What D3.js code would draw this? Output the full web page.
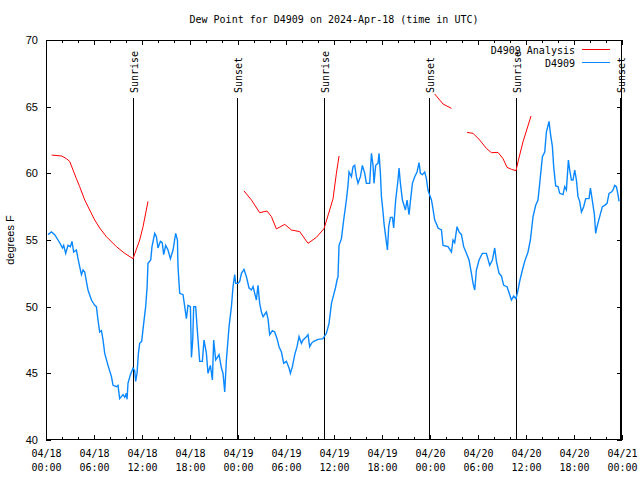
<!DOCTYPE html>
<html><head><meta charset="utf-8">
<script src="https://cdn.jsdelivr.net/npm/d3@7"></script>
<style>
body{margin:0;background:#fff}
svg{display:block}
.mono{font-family:"DejaVu Sans Mono",monospace;font-size:10px}
.sans{font-family:"Liberation Sans",Arial,sans-serif;font-size:11px}
</style></head><body>
<svg id="c" width="640" height="480"></svg>
<script>
// ---- data (time in hours since 2024-04-18 00:00 UTC) ----
const title = "Dew Point for D4909 on 2024-Apr-18 (time in UTC)";
const yLabel = "degrees F";
const seriesNames = ["D4909 Analysis", "D4909"];
const xTickHours = [0,6,12,18,24,30,36,42,48,54,60,66,72];
const xTickDates = ["04/18","04/18","04/18","04/18","04/19","04/19","04/19","04/19","04/20","04/20","04/20","04/20","04/21"];
const xTickTimes = ["00:00","06:00","12:00","18:00","00:00","06:00","12:00","18:00","00:00","06:00","12:00","18:00","00:00"];
const yTicks = [40,45,50,55,60,65,70];
const sunEventHours = [10.87,23.88,34.75,47.88,58.75,71.8];
const sunEventNames = ["Sunrise","Sunset","Sunrise","Sunset","Sunrise","Sunset"];

const obsHours = [0.25,0.68,1.09,1.5,1.8,2.05,2.21,2.46,2.75,3.05,3.25,3.46,3.8,4.0,4.21,4.43,4.63,4.84,5.05,5.25,5.68,6.09,6.3,6.5,6.71,6.93,7.13,7.34,7.75,8.18,8.38,8.8,9.0,9.21,9.63,9.84,10.05,10.13,10.25,10.55,10.88,11.09,11.21,11.38,11.55,11.71,11.96,12.21,12.46,12.63,12.75,13.09,13.25,13.59,13.8,14.0,14.3,14.53,14.71,14.96,15.25,15.55,15.88,16.21,16.43,16.5,16.71,17.13,17.34,17.55,17.75,18.05,18.18,18.34,18.46,18.71,18.88,19.21,19.55,19.75,20.05,20.25,20.55,20.8,20.96,21.21,21.63,21.93,22.13,22.34,22.55,22.88,23.18,23.38,23.59,23.71,24.0,24.21,24.43,24.75,25.05,25.38,25.68,25.88,26.09,26.3,26.5,26.71,26.93,27.13,27.55,27.75,27.96,28.3,28.59,28.88,29.13,29.43,29.71,30.05,30.38,30.55,30.8,31.09,31.38,31.63,31.93,32.13,32.55,32.75,32.96,33.18,33.46,34.0,34.63,35.05,35.38,35.68,35.96,36.18,36.38,36.5,36.63,36.93,37.21,37.55,37.75,37.88,38.18,38.38,38.59,38.8,39.0,39.3,39.55,39.84,40.05,40.46,40.68,40.88,41.0,41.21,41.5,41.63,41.8,41.93,42.13,42.25,42.46,42.68,42.84,43.05,43.3,43.46,43.71,44.0,44.13,44.3,44.55,44.93,45.13,45.38,45.55,45.8,46.09,46.38,46.63,46.8,47.05,47.34,47.55,47.75,47.88,48.18,48.3,48.59,48.88,49.0,49.43,49.63,50.25,50.68,50.88,51.09,51.38,51.63,51.93,52.21,52.55,52.88,53.18,53.38,53.59,53.8,54.13,54.55,55.05,55.46,55.8,56.09,56.3,56.63,56.93,57.21,57.63,57.96,58.18,58.46,58.75,59.0,59.21,59.55,59.84,60.25,60.55,60.88,61.21,61.5,61.8,62.05,62.34,62.55,62.88,63.05,63.3,63.46,63.71,64.0,64.21,64.63,64.84,65.05,65.3,65.46,65.68,65.88,66.09,66.3,66.5,66.71,66.93,67.21,67.46,67.88,68.05,68.18,68.38,68.55,68.71,68.88,69.21,69.55,69.84,70.13,70.38,70.68,70.88,71.09,71.3,71.5,71.63];
const obsValues = [55.4,55.6,55.4,55.0,54.7,54.4,54.6,54.0,54.6,54.5,54.9,54.1,54.25,53.6,53.0,52.4,52.75,52.6,51.9,51.25,50.5,50.1,50.0,49.0,48.1,48.2,47.5,46.5,45.6,44.75,44.1,44.0,44.1,43.1,43.4,43.2,43.5,43.05,44.25,44.9,45.4,45.2,44.4,45.0,46.5,47.25,47.4,48.75,50.0,51.4,53.25,53.5,54.5,55.5,55.25,54.4,54.9,54.8,53.9,54.6,54.25,53.6,54.25,55.5,55.0,53.0,51.0,50.9,50.0,49.1,50.1,50.0,46.2,47.5,50.0,50.0,48.5,45.9,45.9,47.5,46.5,45.0,45.6,44.5,47.5,46.0,46.4,45.4,45.0,43.6,46.0,48.5,50.0,51.5,52.4,51.75,51.75,51.9,52.5,52.8,52.25,51.4,51.25,51.5,51.0,50.5,51.6,50.25,49.6,49.25,49.6,49.1,47.9,48.2,48.1,47.6,47.0,46.6,45.75,45.9,45.4,45.0,45.5,46.4,47.0,47.75,47.25,47.5,47.75,47.9,47.0,47.25,47.4,47.55,47.6,48.0,48.75,50.25,50.9,51.4,52.0,52.25,54.6,55.1,56.5,58.0,59.1,60.1,59.75,60.5,60.6,59.75,59.25,59.75,60.6,60.0,59.25,59.25,61.5,60.6,59.25,60.6,60.75,61.5,60.0,58.25,57.1,56.25,55.25,54.25,56.0,56.7,56.7,55.9,58.0,59.5,60.4,59.25,58.0,57.25,58.0,56.9,57.9,59.25,59.75,60.1,60.8,60.0,59.9,60.1,59.6,58.75,58.5,58.0,57.6,56.5,56.1,55.9,55.75,54.6,54.5,54.1,55.0,54.8,56.0,55.6,55.4,54.5,54.0,53.5,52.5,51.75,51.25,52.75,53.5,54.0,54.0,53.1,53.5,54.4,53.4,52.5,52.3,51.6,51.5,50.9,50.5,50.8,50.6,51.25,51.9,52.75,53.4,54.1,55.0,56.75,57.6,58.0,59.75,61.25,61.6,63.1,63.9,63.0,62.0,60.5,59.05,59.0,58.5,58.4,59.0,58.75,61.0,60.25,59.5,59.5,60.25,59.5,58.25,57.9,57.1,57.5,58.1,58.1,58.9,58.4,57.6,56.9,55.5,56.0,56.75,57.5,57.6,57.75,58.5,58.6,58.75,59.1,59.0,58.4,57.9];

// analysis series; null marks a gap
const anaHours = [0.71,1.96,2.55,2.96,3.38,3.8,4.21,4.84,5.46,6.09,6.71,7.55,8.8,9.84,10.88,11.71,12.13,12.75,
  18.0,
  24.75,25.68,26.71,27.63,28.18,28.8,29.84,30.68,31.71,32.75,33.8,34.75,35.46,35.88,36.3,36.63,
  42.0,
  48.59,49.63,50.68,
  51.5,
  52.63,53.38,54.21,55.05,55.68,56.5,57.13,57.63,58.18,58.75,59.0,59.63,60.63];
const anaValues = [61.37,61.3,61.1,60.9,60.25,59.6,59.0,58.0,57.25,56.5,55.9,55.25,54.5,54.0,53.6,55.0,56.0,57.9,
  null,
  58.68,58.0,57.05,57.17,56.75,55.83,56.17,55.75,55.63,54.75,55.2,55.85,57.25,58.1,60.0,61.3,
  null,
  65.95,65.2,64.87,
  null,
  63.07,63.0,62.5,61.87,61.55,61.57,61.1,60.45,60.3,60.2,60.87,62.37,64.3];

// ---- chart ----
const W = 640, H = 480;
const m = {l:46, r:18, t:40, b:40};
const svg = d3.select("#c");
const x = d3.scaleLinear().domain([0,72]).range([m.l, W-m.r]);
const y = d3.scaleLinear().domain([40,70]).range([H-m.b, m.t]);
const colors = ["#ff0000", "#0a88ff"];
const pBottom = H-m.b, pTop = m.t, pLeft = m.l, pRight = W-m.r;

svg.append("text").attr("class","mono").attr("x",(pLeft+pRight)/2).attr("y",23)
  .attr("text-anchor","middle").text(title);

// sun event lines
const sunG = svg.append("g");
sunEventHours.forEach((h,i)=>{
  const px = Math.round(x(h))+0.5;
  sunG.append("line").attr("x1",px).attr("x2",px).attr("y1",98).attr("y2",pBottom)
    .attr("stroke","#000").attr("stroke-width",1).attr("shape-rendering","crispEdges");
  sunG.append("text").attr("class","mono").attr("transform",`translate(${px+4},93) rotate(-90)`)
    .attr("text-anchor","start").text(sunEventNames[i]);
});

// axes
function axisStyle(g){ g.selectAll("path").remove(); g.selectAll("line").attr("stroke","#000").attr("shape-rendering","crispEdges"); }
const minorHours = d3.range(0,73,2).filter(h=>h%6!==0);
svg.append("g").attr("transform",`translate(0,${pBottom})`)
  .call(d3.axisBottom(x).tickValues(minorHours).tickSize(-3).tickFormat("")).call(axisStyle);
svg.append("g").attr("transform",`translate(0,${pTop})`)
  .call(d3.axisTop(x).tickValues(minorHours).tickSize(-3).tickFormat("")).call(axisStyle);
svg.append("g").attr("transform",`translate(0,${pTop})`)
  .call(d3.axisTop(x).tickValues(xTickHours).tickSize(-5).tickFormat("")).call(axisStyle);
const xb = svg.append("g").attr("transform",`translate(0,${pBottom})`)
  .call(d3.axisBottom(x).tickValues(xTickHours).tickSize(-5).tickPadding(0).tickFormat("")).call(axisStyle);
xb.selectAll(".tick").each(function(d,i){
  const t = d3.select(this).append("text").attr("class","mono").attr("fill","#000")
    .attr("text-anchor","middle").attr("y",17);
  t.append("tspan").attr("x",0).text(xTickDates[i]);
  t.append("tspan").attr("x",0).attr("dy",14).text(xTickTimes[i]);
});
const yl = svg.append("g").attr("transform",`translate(${pLeft},0)`)
  .call(d3.axisLeft(y).tickValues(yTicks).tickSize(-5).tickPadding(8)).call(axisStyle);
yl.attr("font-size",null).attr("font-family",null);
yl.selectAll("text").attr("class","sans").attr("fill","#000");
svg.append("g").attr("transform",`translate(${pRight},0)`)
  .call(d3.axisRight(y).tickValues(yTicks).tickSize(-5).tickFormat("")).call(axisStyle);

svg.append("text").attr("class","sans").attr("transform",`translate(14,240) rotate(-90)`)
  .attr("text-anchor","middle").text(yLabel);

// data lines
svg.append("clipPath").attr("id","pc").append("rect")
  .attr("x",pLeft).attr("y",pTop).attr("width",pRight-pLeft).attr("height",pBottom-pTop);
const line = d3.line().defined(d=>d[1]!==null).x(d=>x(d[0])).y(d=>y(d[1]));
const anaData = anaHours.map((h,i)=>[h,anaValues[i]]);
const obsData = obsHours.map((h,i)=>[h,obsValues[i]]);
svg.append("path").datum(anaData).attr("d",line).attr("fill","none")
  .attr("stroke",colors[0]).attr("stroke-width",1).attr("clip-path","url(#pc)");
svg.append("path").datum(obsData).attr("d",line).attr("fill","none")
  .attr("stroke",colors[1]).attr("stroke-width",1.4).attr("clip-path","url(#pc)");

// frame
svg.append("rect").attr("x",pLeft+0.5).attr("y",pTop+0.5).attr("width",pRight-pLeft-1).attr("height",pBottom-pTop-1)
  .attr("fill","none").attr("stroke","#000").attr("stroke-width",1).attr("shape-rendering","crispEdges");

// legend
seriesNames.forEach((n,i)=>{
  const ly = 50 + i*13;
  svg.append("text").attr("class","mono").attr("x",575).attr("y",ly+3.5).attr("text-anchor","end").text(n);
  svg.append("line").attr("x1",582).attr("x2",610).attr("y1",ly-0.5).attr("y2",ly-0.5)
    .attr("stroke",colors[i]).attr("stroke-width",1);
});
</script></body></html>
